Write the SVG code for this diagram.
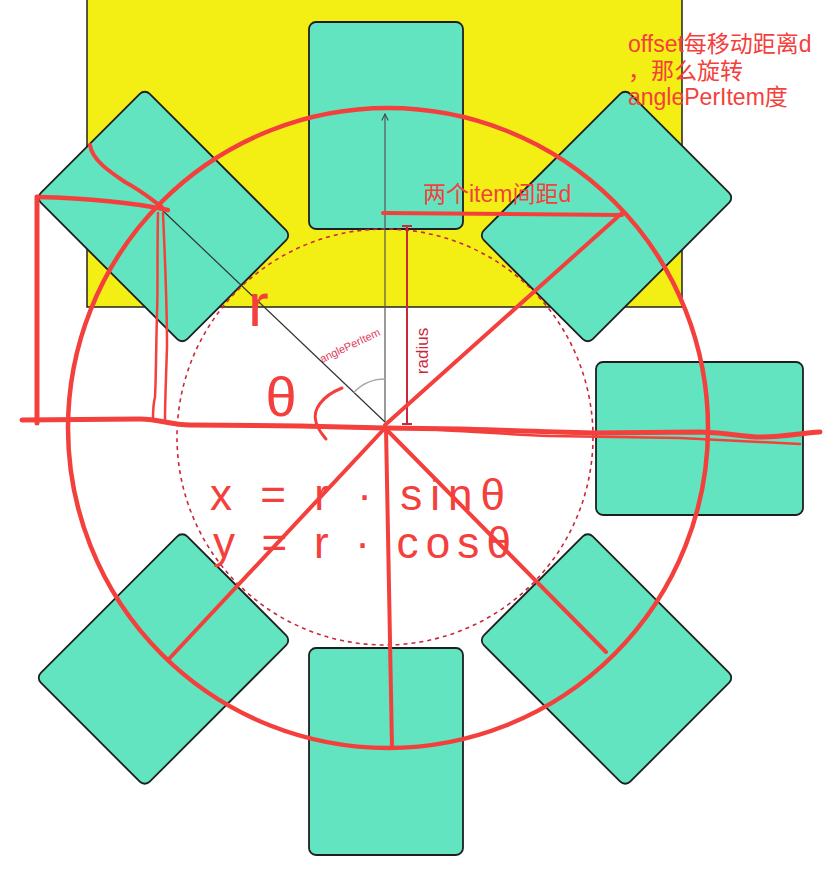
<svg xmlns="http://www.w3.org/2000/svg" width="836" height="872" viewBox="0 0 836 872">
  <style>
    .card { fill: #62E4C1; stroke: #1f1f1f; stroke-width: 1.8; }
    .pen { fill: none; stroke: #F4403C; stroke-linecap: round; stroke-linejoin: round; }
    .pentext { fill: #F4403C; font-family: "Liberation Sans", "Noto Sans CJK SC", sans-serif; }
    .dim { stroke: #C8283A; fill: none; }
  </style>
  <defs>
    <marker id="arrow" viewBox="0 0 10 10" refX="9" refY="5" markerWidth="8" markerHeight="8" orient="auto" markerUnits="userSpaceOnUse">
      <path d="M1,1 L9,5 L1,9" fill="none" stroke="#444" stroke-width="1.3"/>
    </marker>
  </defs>
  <rect width="836" height="872" fill="#ffffff"/>

  <g id="background">
    <rect x="87" y="-2" width="595" height="309" fill="#F3EF15" stroke="#222" stroke-width="1.5"/>
  </g>

  <g id="card-top"><rect class="card" x="309" y="22" width="154" height="207" rx="7"/></g>
  <g id="card-top-left"><rect class="card" x="-77" y="-103.5" width="154" height="207" rx="7" transform="translate(163.5,216.5) rotate(-45)"/></g>
  <g id="card-top-right"><rect class="card" x="-77" y="-103.5" width="154" height="207" rx="7" transform="translate(606.5,216.5) rotate(45)"/></g>
  <g id="card-right"><rect class="card" x="596" y="362" width="207" height="153" rx="7"/></g>
  <g id="card-bottom-left"><rect class="card" x="-77" y="-103.5" width="154" height="207" rx="7" transform="translate(163.5,659) rotate(45)"/></g>
  <g id="card-bottom-right"><rect class="card" x="-77" y="-103.5" width="154" height="207" rx="7" transform="translate(606.5,659) rotate(-45)"/></g>
  <g id="card-bottom"><rect class="card" x="309" y="648" width="154" height="207" rx="7"/></g>

  <g id="guides">
    <circle class="dim" cx="385" cy="437" r="208" stroke-width="1.6" stroke-dasharray="4 4"/>
    <line x1="407" y1="226" x2="407" y2="424" class="dim" stroke-width="2"/>
    <line x1="402" y1="226" x2="412" y2="226" class="dim" stroke-width="2"/>
    <line x1="402" y1="424" x2="412" y2="424" class="dim" stroke-width="2"/>
    <text transform="translate(428,351) rotate(-90)" text-anchor="middle" font-family="Liberation Sans, sans-serif" font-size="17" fill="#C8283A">radius</text>
    <text transform="translate(322,363) rotate(-25.5)" font-family="Liberation Sans, sans-serif" font-size="11" fill="#E0405A">anglePerItem</text>
  </g>

  <g id="connectors">
    <line x1="385" y1="422" x2="385" y2="114" stroke="#555" stroke-width="1.2" marker-end="url(#arrow)"/>
    <line x1="160" y1="208" x2="385" y2="422" stroke="#333" stroke-width="1.2"/>
    <path d="M353.8,392.4 A43,43 0 0 1 385,379" fill="none" stroke="#aaa" stroke-width="1.5"/>
    <circle class="pen" cx="388" cy="428" r="320" stroke-width="4.5"/>
    <line class="pen" x1="385" y1="425" x2="622" y2="213" stroke-width="4"/>
    <line class="pen" x1="383" y1="213" x2="622" y2="215" stroke-width="4"/>
    <line class="pen" x1="385" y1="428" x2="168" y2="660" stroke-width="4"/>
    <line class="pen" x1="386" y1="428" x2="392" y2="747" stroke-width="4"/>
    <line class="pen" x1="385" y1="428" x2="606" y2="652" stroke-width="4"/>
  </g>

  <g id="annotations">
    <path class="pen" stroke-width="5" d="M22,420 L140,419 C160,419 170,425 190,425 L300,426 L385,428 L460,429 C500,430 540,432 593,433 L700,432 C730,433 745,437 760,437 C785,437 800,433 820,432"/>
    <path class="pen" stroke-width="2.5" d="M400,428 C450,430 500,434 550,436 L680,438 C720,440 760,442 800,444"/>
    <path class="pen" stroke-width="5" d="M37,197 L37,423"/>
    <path class="pen" stroke-width="4.5" d="M37,197 C80,198 130,202 168,210"/>
    <path class="pen" stroke-width="4" d="M90,145 C92,160 110,172 125,182 C140,190 150,198 162,207"/>
    <path class="pen" stroke-width="2.5" d="M158,213 C157,260 158,290 157,313 C156,350 156,380 155,397 C153,405 153,410 153,418"/>
    <path class="pen" stroke-width="2.5" d="M163,213 C165,260 167,300 167,347 C166,380 165,400 165,420"/>
    <path class="pen" stroke-width="3" d="M342,388 C322,396 312,410 316,422 C318,430 322,434 326,439"/>
    <text class="pentext" x="248" y="326" font-size="62">r</text>
    <text class="pentext" x="281" y="416" font-size="56" text-anchor="middle">θ</text>
    <text class="pentext" x="210" y="510" font-size="44" textLength="295" lengthAdjust="spacing">x = r · sinθ</text>
    <text class="pentext" x="213" y="558" font-size="44" textLength="298" lengthAdjust="spacing">y = r · cosθ</text>
    <text class="pentext" x="423" y="202" font-size="23">两个item间距d</text>
    <text class="pentext" font-size="23">
      <tspan x="628" y="52">offset每移动距离d</tspan>
      <tspan x="628" y="79">，那么旋转</tspan>
      <tspan x="628" y="105">anglePerItem度</tspan>
    </text>
  </g>
</svg>
